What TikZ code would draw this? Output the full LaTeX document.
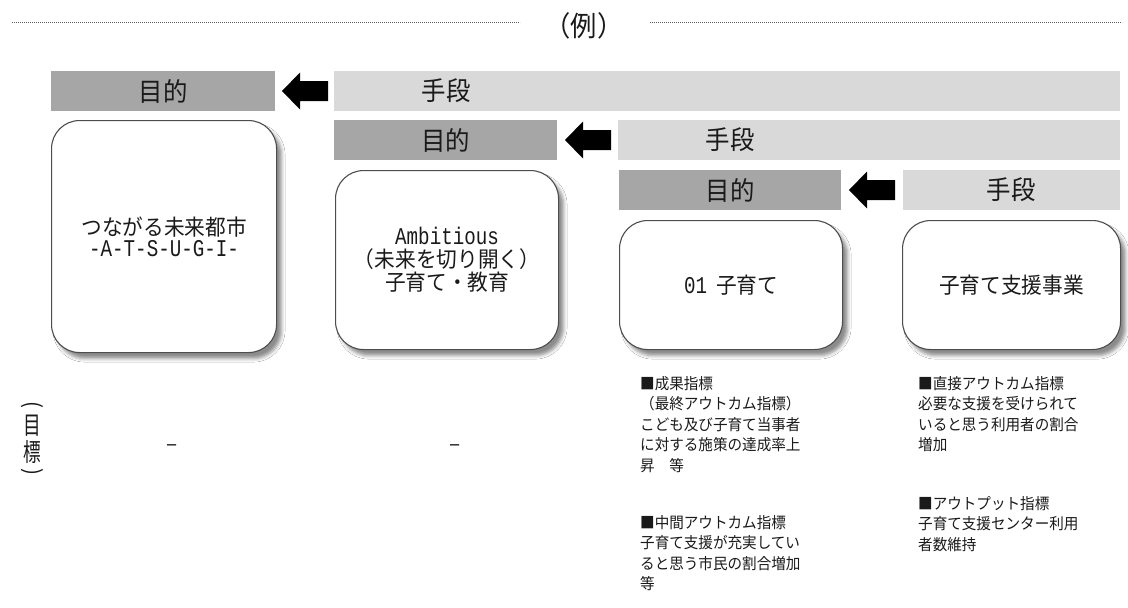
\documentclass[tikz,border=0pt]{standalone}
\usepackage{fontspec}
\usetikzlibrary{shadows.blur}
\newfontfamily\jpf{Noto Sans CJK JP}[FakeStretch=0.94]
\newfontfamily\monof{Liberation Mono}[FakeStretch=0.8]
\definecolor{bardark}{HTML}{A6A6A6}
\definecolor{barlight}{HTML}{D9D9D9}
\definecolor{ink}{HTML}{1A1A1A}
\definecolor{edge}{HTML}{4D4D4D}
\definecolor{dotc}{HTML}{5A5A5A}
\newcommand{\monotext}[1]{{\monof\fontsize{24}{24}\selectfont #1}}
\tikzset{
  purposebar/.style={fill=bardark, draw=none, inner sep=0pt, minimum height=40pt, anchor=north west, text=ink, font=\jpf\fontsize{26}{28}\selectfont},
  meansbar/.style={fill=barlight, draw=none, inner sep=0pt, minimum height=40pt, anchor=north west},
  barlabel/.style={text=ink, inner sep=0pt, font=\jpf\fontsize{26}{28}\selectfont},
  card/.style={draw=edge, line width=1.1pt, fill=white, rounded corners=28pt, anchor=north west, inner sep=0pt, align=center, text=ink,
     font=\jpf\fontsize{22}{23}\selectfont,
     blur shadow={shadow xshift=5pt, shadow yshift=-6pt, shadow opacity=45, shadow blur radius=3.5pt}},
  note/.style={anchor=north west, inner sep=0pt, align=left, text=ink, font=\jpf\fontsize{15.5}{20.5}\selectfont},
  vlabel/.style={text=ink, inner sep=0pt, font=\jpf\fontsize{25}{25}\selectfont, xscale=0.75},
  vparen/.style={text=ink, inner sep=0pt, font=\jpf\fontsize{22}{22}\selectfont, rotate=-90},
  dashmark/.style={text=ink, inner sep=0pt, font=\jpf\fontsize{22}{22}\selectfont},
  dotline/.style={draw=dotc, line width=0.9pt, dash pattern=on 0.9pt off 1.1pt},
  larrow/.pic={\fill[black] (0,0) -- (18,-18.5) -- (18,-10) -- (46,-10) -- (46,10) -- (18,10) -- (18,18.5) -- cycle;}
}
\begin{document}
\begin{tikzpicture}[x=1pt,y=-1pt]
\useasboundingbox[fill=white] (0,0) rectangle (1128,608);

% title with dotted rules
\coordinate (dl1) at (12,22);
\coordinate (dl2) at (520,22);
\coordinate (dr1) at (650,22);
\coordinate (dr2) at (1122,22);
\draw[dotline] (dl1) -- (dl2);
\draw[dotline] (dr1) -- (dr2);
\node[text=ink, inner sep=0pt, font=\jpf\fontsize{28}{30}\selectfont] (title) at (584,26) {（例）};

% bars row 1
\node[purposebar, minimum width=224pt] (p1) at (51,71) {目的};
\node[meansbar, minimum width=786pt] (m1) at (334,71) {};
\node[barlabel] (m1t) at (446,91) {手段};
\pic at (282,91) {larrow};

% bars row 2
\node[purposebar, minimum width=223pt] (p2) at (334,120) {目的};
\node[meansbar, minimum width=502pt] (m2) at (618,120) {};
\node[barlabel] (m2t) at (730,140) {手段};
\pic at (565,140) {larrow};

% bars row 3
\node[purposebar, minimum width=222pt] (p3) at (619,170) {目的};
\node[meansbar, minimum width=217pt] (m3) at (903,170) {};
\node[barlabel] (m3t) at (1011,190) {手段};
\pic at (849,190) {larrow};

% cards
\node[card, minimum width=225pt, minimum height=232pt] (b1) at (51,120)
  {つながる未来都市\\[-2pt]\monotext{-A-T-S-U-G-I-}};
\node[card, minimum width=223pt, minimum height=179pt] (b2) at (335,170)
  {\monotext{Ambitious}\\（未来を切り開く）\\子育て・教育};
\node[card, minimum width=223pt, minimum height=129pt] (b3) at (619,220)
  {\monotext{01}\hspace{9pt}子育て};
\node[card, minimum width=218pt, minimum height=129pt] (b4) at (902,220)
  {子育て支援事業};

% targets label (vertical)
\node[vparen] (g1) at (32,405) {(};
\node[vlabel] (g2) at (32,426) {目};
\node[vlabel] (g3) at (32,452) {標};
\node[vparen] (g4) at (32,472) {)};

% dashes
\node[dashmark] (d1) at (172,448) {–};
\node[dashmark] (d2) at (455,448) {–};

% notes
\node[note] (n1) at (640,376) {■成果指標\\（最終アウトカム指標）\\こども及び子育て当事者\\に対する施策の達成率上\\昇　等};
\node[note] (n2) at (640,515) {■中間アウトカム指標\\子育て支援が充実してい\\ると思う市民の割合増加\\等};
\node[note] (n3) at (918,376) {■直接アウトカム指標\\必要な支援を受けられて\\いると思う利用者の割合\\増加};
\node[note] (n4) at (918,496) {■アウトプット指標\\子育て支援センター利用\\者数維持};
\end{tikzpicture}
\end{document}
